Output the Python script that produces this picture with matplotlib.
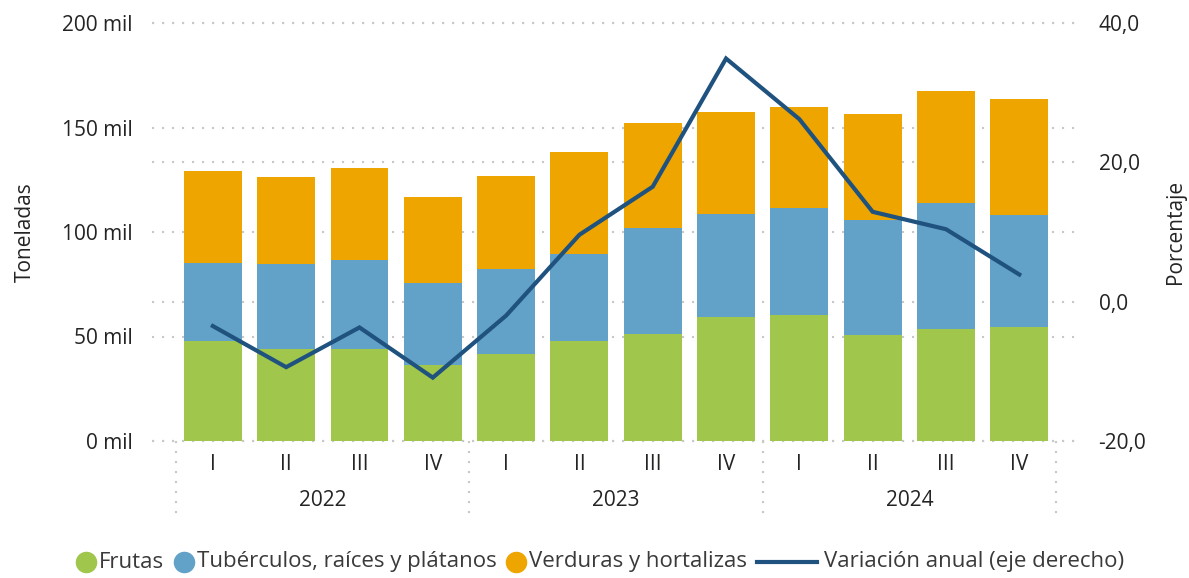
import matplotlib
matplotlib.use("Agg")
import matplotlib.pyplot as plt
from matplotlib.lines import Line2D
from matplotlib.transforms import blended_transform_factory
from matplotlib.ticker import FuncFormatter

# ---- data ----
years = ["2022", "2023", "2024"]
quarters = ["I", "II", "III", "IV"]
frutas = [47.8, 44.0, 44.0, 36.4, 41.8, 47.8, 51.3, 59.5, 60.3, 50.7, 53.6, 54.5]
tuberculos = [37.4, 40.7, 42.7, 39.2, 40.5, 41.8, 50.8, 49.3, 51.3, 55.2, 60.3, 53.6]
verduras = [44.0, 41.6, 43.9, 41.1, 44.5, 48.7, 50.1, 48.6, 48.2, 50.6, 53.6, 55.5]
variacion = [-3.5, -9.4, -3.7, -10.9, -2.0, 9.6, 16.5, 34.9, 26.2, 12.9, 10.4, 3.9]
left_ticks = [0, 50, 100, 150, 200]
right_ticks = [-20, 0, 20, 40]
legend_labels = ["Frutas", "Tubérculos, raíces y plátanos", "Verduras y hortalizas",
                 "Variación anual (eje derecho)"]

c_green = "#A1C64C"
c_blue = "#63A2C8"
c_orange = "#EEA500"
c_line = "#1F527F"
c_grid = "#C8C8C8"
c_text = "#252423"
FS = 15

plt.rcParams['font.family'] = ['Open Sans', 'DejaVu Sans']

W, H = 1189, 578
fig = plt.figure(figsize=(W/100, H/100), dpi=100)
ax = fig.add_axes([152/W, 1-441/H, 923/W, 418/H])
ax2 = ax.twinx()

n = len(frutas)
x = list(range(n))
bottom2 = [a for a in frutas]
bottom3 = [a + b for a, b in zip(frutas, tuberculos)]
ax.bar(x, frutas, width=0.79, color=c_green, zorder=2)
ax.bar(x, tuberculos, width=0.79, bottom=bottom2, color=c_blue, zorder=2)
ax.bar(x, verduras, width=0.79, bottom=bottom3, color=c_orange, zorder=2)

ax.set_xlim(-0.83, 11.76)
ax.set_ylim(0, 200)
ax2.set_ylim(-20, 40)

ax2.plot(x, variacion, color=c_line, lw=3.0, solid_joinstyle='miter', zorder=3)

# gridlines (dotted), behind bars
dash = (0, (1, 3.8))
for v in left_ticks:
    ax.plot([0, 1], [v, v], transform=blended_transform_factory(ax.transAxes, ax.transData),
            color=c_grid, lw=1.5, ls=dash, zorder=0.5, clip_on=False)
for v in right_ticks:
    ax.plot([0, 1], [v, v], transform=blended_transform_factory(ax.transAxes, ax2.transData),
            color=c_grid, lw=1.5, ls=dash, zorder=0.5, clip_on=False)

for a in (ax, ax2):
    for s in a.spines.values():
        s.set_visible(False)
ax.patch.set_visible(False)

ax.set_yticks(left_ticks)
ax.yaxis.set_major_formatter(FuncFormatter(lambda v, p: f"{int(v)} mil"))
ax.tick_params(axis='y', length=0, pad=14, labelsize=FS, labelcolor=c_text)
ax2.set_yticks(right_ticks)
ax2.yaxis.set_major_formatter(FuncFormatter(lambda v, p: f"{v:.1f}".replace('.', ',')))
ax2.tick_params(axis='y', length=0, pad=17, labelsize=FS, labelcolor=c_text)

ax.set_xticks([])
tr = blended_transform_factory(ax.transData, ax.transAxes)
for i in range(n):
    ax.text(i, -24/418, quarters[i % 4], transform=tr, ha='center', va='center',
            fontsize=FS, color=c_text)
for j, yname in enumerate(years):
    ax.text(4*j + 1.5, -59/418, yname, transform=tr, ha='center', va='center',
            fontsize=FS, color=c_text)
for xs in [-0.5, 3.5, 7.5, 11.5]:
    ax.plot([xs, xs], [0, -79/418], transform=tr, color=c_grid, lw=1.5, ls=dash,
            clip_on=False, zorder=0.5)

fig.text(25/W, 1-232/H, "Toneladas", rotation=90, ha='center', va='center',
         fontsize=FS, color=c_text)
fig.text(1175/W, 1-232/H, "Porcentaje", rotation=90, ha='center', va='center',
         fontsize=FS, color=c_text)

# ---- custom legend (laid out in pixels, centred) ----
renderer = fig.canvas.get_renderer()
LFS = 16
ly = 1 - 562/H
kinds = ["circle", "circle", "circle", "line"]
lcolors = [c_green, c_blue, c_orange, c_line]
items = []
cur = 0.0
for kind, col, lab in zip(kinds, lcolors, legend_labels):
    hw = 20 if kind == "circle" else 60
    gap = 3 if kind == "circle" else 7
    t = fig.text(0, ly, lab, ha='left', va='center', fontsize=LFS, color="#3a3a3a")
    tw = t.get_window_extent(renderer).width
    items.append((kind, col, cur, hw, cur + hw + gap, t))
    cur += hw + gap + tw + 10
total = cur - 10
start = 600 - total/2
for kind, col, hx, hw, tx, t in items:
    t.set_x((start + tx)/W)
    if kind == "circle":
        fig.add_artist(Line2D([(start + hx + hw/2)/W], [ly], marker='o', ls='none',
                              color=col, markersize=14.5, transform=fig.transFigure))
    else:
        fig.add_artist(Line2D([(start + hx)/W, (start + hx + hw)/W], [ly, ly],
                              color=col, lw=3.0, transform=fig.transFigure))

fig.savefig("out.png", dpi=100)
